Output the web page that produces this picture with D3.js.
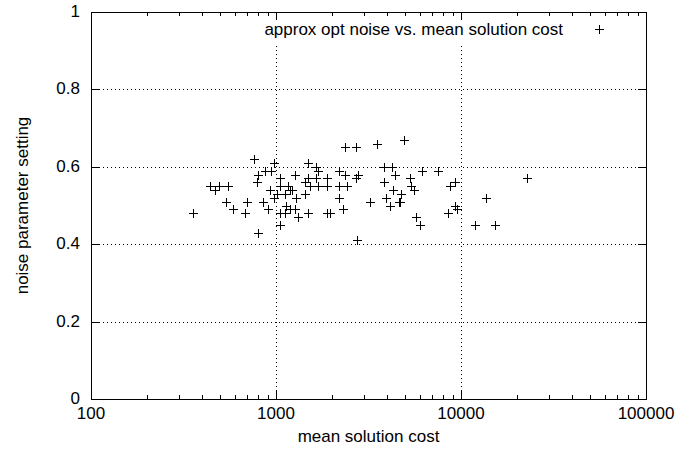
<!DOCTYPE html>
<html>
<head>
<meta charset="utf-8">
<script src="https://cdn.jsdelivr.net/npm/d3@7"></script>
<style>
  body { margin: 0; background: #fff; }
  text { font-family: "Liberation Sans", Arial, sans-serif; font-size: 17px; fill: #000; }
</style>
</head>
<body>
<script>
// mean solution cost vs. approx opt noise
const cost = [356, 438, 470, 494, 552, 539, 588, 683, 700, 757, 802, 793, 802, 850, 901,
    875, 943, 979, 930, 979, 1012, 1055, 1045, 1045, 1055, 1122, 1137, 1122, 1165, 1194,
    1220, 1194, 1271, 1271, 1288, 1320, 1440, 1440, 1486, 1486, 1486, 1531, 1650, 1693,
    1650, 1693, 1887, 1887, 1887, 1967, 2180, 2180, 2200, 2311, 2370, 2370, 2430, 2700,
    2716, 2786, 2750, 3234, 3530, 3819, 3819, 3953, 4150, 4256, 4313, 4418, 4613, 4700,
    4755, 4896, 5274, 5385, 5597, 5715, 6026, 6152, 7510, 8466, 8750, 9313, 9313, 9550,
    11940, 13650, 15320, 22740];
const noise = [0.48, 0.55, 0.54, 0.55, 0.55, 0.51, 0.49, 0.48, 0.51, 0.62, 0.58, 0.56, 0.43, 0.51, 0.49,
    0.59, 0.59, 0.61, 0.54, 0.52, 0.53, 0.57, 0.55, 0.48, 0.45, 0.53, 0.50, 0.48, 0.55, 0.54,
    0.54, 0.49, 0.58, 0.49, 0.52, 0.47, 0.53, 0.56, 0.61, 0.57, 0.48, 0.55, 0.60, 0.59,
    0.57, 0.55, 0.57, 0.55, 0.48, 0.48, 0.59, 0.52, 0.55, 0.49, 0.65, 0.58, 0.55, 0.65,
    0.57, 0.58, 0.41, 0.51, 0.66, 0.60, 0.56, 0.52, 0.50, 0.60, 0.54, 0.58, 0.51, 0.51,
    0.53, 0.67, 0.57, 0.55, 0.54, 0.47, 0.45, 0.59, 0.59, 0.48, 0.55, 0.56, 0.50, 0.49,
    0.45, 0.52, 0.45, 0.57];
const xTicks = [100, 1000, 10000, 100000];
const yTicks = [0, 0.2, 0.4, 0.6, 0.8, 1];
const seriesName = "approx opt noise vs. mean solution cost";

const W = 678, H = 450;
const pl = 91, pr = 646, pt = 12, pb = 399;

let svg = d3.select("body").append("svg")
    .attr("width", W)
    .attr("height", H);

let x = d3.scaleLog().domain([100, 100000]).range([pl, pr]);
let y = d3.scaleLinear().domain([0, 1]).range([pb, pt]);

let minor = [];
for (let d = 100; d < 100000; d *= 10)
    for (let k = 2; k <= 9; k++) minor.push(d * k);

// grid
let grid = svg.append("g")
    .attr("stroke", "#000")
    .attr("stroke-width", 1)
    .attr("stroke-dasharray", "1,3")
    .attr("shape-rendering", "crispEdges");
grid.selectAll(".gx")
    .data(xTicks.slice(1, -1))
    .enter().append("line")
    .attr("x1", (d) => Math.round(x(d)) + 0.5).attr("x2", (d) => Math.round(x(d)) + 0.5)
    .attr("y1", pb).attr("y2", pt);
grid.selectAll(".gy")
    .data(yTicks.slice(1, -1))
    .enter().append("line")
    .attr("x1", pl).attr("x2", pr)
    .attr("y1", (d) => Math.round(y(d)) + 0.5).attr("y2", (d) => Math.round(y(d)) + 0.5);

// key area is cleared
svg.append("rect")
    .attr("x", 238).attr("y", pt + 1)
    .attr("width", 376).attr("height", 31)
    .attr("fill", "#fff");

// ticks, inward, on all four sides
let ticks = svg.append("g")
    .attr("stroke", "#000")
    .attr("shape-rendering", "crispEdges");
function tickX(list, len) {
    list.forEach((d) => {
        let px = Math.round(x(d)) + 0.5;
        ticks.append("line").attr("x1", px).attr("x2", px).attr("y1", pb).attr("y2", pb - len);
        ticks.append("line").attr("x1", px).attr("x2", px).attr("y1", pt).attr("y2", pt + len);
    });
}
tickX(xTicks, 8);
tickX(minor, 4);
yTicks.forEach((d) => {
    let py = Math.round(y(d)) + 0.5;
    ticks.append("line").attr("x1", pl).attr("x2", pl + 8).attr("y1", py).attr("y2", py);
    ticks.append("line").attr("x1", pr).attr("x2", pr - 8).attr("y1", py).attr("y2", py);
});

// border
svg.append("rect")
    .attr("x", pl + 0.5).attr("y", pt + 0.5)
    .attr("width", pr - pl).attr("height", pb - pt)
    .attr("fill", "none")
    .attr("stroke", "#000")
    .attr("shape-rendering", "crispEdges");

// tick labels
svg.selectAll(".xl")
    .data(xTicks)
    .enter().append("text")
    .attr("x", (d) => x(d))
    .attr("y", 419)
    .attr("text-anchor", "middle")
    .text((d) => d);
svg.selectAll(".yl")
    .data(yTicks)
    .enter().append("text")
    .attr("x", 80)
    .attr("y", (d) => y(d) + 5)
    .attr("text-anchor", "end")
    .text((d) => d);

svg.append("text")
    .attr("x", (pl + pr) / 2)
    .attr("y", 442)
    .attr("text-anchor", "middle")
    .text("mean solution cost");
svg.append("text")
    .attr("transform", "translate(28," + (pt + pb) / 2 + ") rotate(-90)")
    .attr("text-anchor", "middle")
    .text("noise parameter setting");

// key
svg.append("text")
    .attr("x", 563)
    .attr("y", 35)
    .attr("text-anchor", "end")
    .text(seriesName);

const plus = "M-4.5,0H4.5M0,-4.5V4.5";
svg.append("path")
    .attr("transform", "translate(599.5,29.5)")
    .attr("d", plus)
    .attr("stroke", "#000")
    .attr("fill", "none");

// points
let pts = cost.map((c, i) => ({ cost: c, noise: noise[i] }));
svg.append("g")
    .selectAll("path")
    .data(pts)
    .enter().append("path")
    .attr("transform", (d) => "translate(" + (Math.round(x(d.cost)) + 0.5) + "," + (Math.round(y(d.noise)) + 0.5) + ")")
    .attr("d", plus)
    .attr("stroke", "#000")
    .attr("stroke-width", 1)
    .attr("fill", "none");
</script>
</body>
</html>
